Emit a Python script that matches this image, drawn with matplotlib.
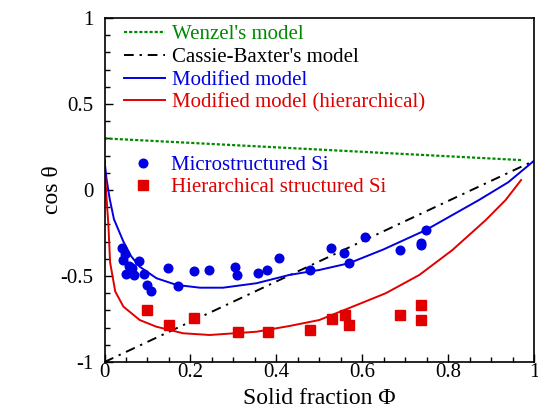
import matplotlib
matplotlib.use("Agg")
import matplotlib.pyplot as plt
from matplotlib.ticker import MultipleLocator, FixedLocator, FixedFormatter

plt.rcParams['font.family'] = ['Liberation Serif', 'DejaVu Serif']
plt.rcParams['mathtext.fontset'] = 'stix'

# ---- data ----
wenzel_x = [0.0, 0.97]
wenzel_y = [0.30, 0.174]

cassie_x = [0.0, 1.0]
cassie_y = [-1.0, 0.17]

mod_x = [0.0, 0.005, 0.012, 0.022, 0.044, 0.062, 0.082, 0.121, 0.168, 0.222,
         0.276, 0.354, 0.43, 0.5, 0.569, 0.65, 0.748, 0.872, 0.94, 1.0]
mod_y = [0.17, 0.06, -0.05, -0.17, -0.30, -0.385, -0.446, -0.513, -0.552, -0.568,
         -0.568, -0.542, -0.494, -0.465, -0.426, -0.345, -0.233, -0.058, 0.045, 0.17]

hier_x = [0.0, 0.004, 0.009, 0.013, 0.025, 0.044, 0.082, 0.121, 0.183, 0.245,
          0.354, 0.43, 0.5, 0.578, 0.655, 0.733, 0.81, 0.888, 0.934, 0.97]
hier_y = [0.17, -0.02, -0.2, -0.42, -0.59, -0.678, -0.756, -0.795, -0.833, -0.843,
          -0.824, -0.791, -0.756, -0.678, -0.60, -0.494, -0.349, -0.174, -0.058, 0.058]

micro_x = [0.041, 0.048, 0.044, 0.057, 0.063, 0.051, 0.069, 0.080, 0.093, 0.100,
           0.109, 0.149, 0.172, 0.209, 0.243, 0.304, 0.308, 0.358, 0.378, 0.407,
           0.478, 0.528, 0.557, 0.569, 0.607, 0.687, 0.737, 0.737, 0.748]
micro_y = [-0.335, -0.374, -0.407, -0.442, -0.452, -0.488, -0.496, -0.411, -0.487, -0.554,
           -0.585, -0.455, -0.556, -0.473, -0.467, -0.449, -0.496, -0.483, -0.467, -0.395,
           -0.465, -0.335, -0.365, -0.426, -0.272, -0.347, -0.306, -0.320, -0.231]

hsi_x = [0.100, 0.150, 0.209, 0.310, 0.380, 0.479, 0.529, 0.559, 0.570, 0.688, 0.738, 0.738]
hsi_y = [-0.698, -0.783, -0.744, -0.826, -0.826, -0.816, -0.750, -0.728, -0.787, -0.727,
         -0.669, -0.758]

xticks = [0, 0.2, 0.4, 0.6, 0.8, 1.0]
xticklabels = ['0', '0.2', '0.4', '0.6', '0.8', '1']
yticks = [-1, -0.5, 0, 0.5, 1]
yticklabels = ['-1', '-0.5', '0', '0.5', '1']

GREEN = '#008a00'
BLUE = '#0000e0'
RED = '#e00000'

fig = plt.figure(figsize=(5.38, 4.16), dpi=100)
ax = fig.add_axes([104.5/538, 1-362/416, (534-104.5)/538, (362-18)/416])

lw_ = ax.plot(wenzel_x, wenzel_y, color=GREEN, lw=1.6, ls=(0, (1.4, 0.9)),
              label="Wenzel's model")[0]
lc_ = ax.plot(cassie_x, cassie_y, color='black', lw=1.4, ls=(0, (5, 3, 1.2, 3)),
              label="Cassie-Baxter's model")[0]
lm_ = ax.plot(mod_x, mod_y, color=BLUE, lw=1.4, label='Modified model')[0]
lh_ = ax.plot(hier_x, hier_y, color=RED, lw=1.4, label='Modified model (hierarchical)')[0]

pm_ = ax.plot(micro_x, micro_y, 'o', color=BLUE, ms=6.2, mec=BLUE,
              label='Microstructured Si')[0]
ph_ = ax.plot(hsi_x, hsi_y, 's', color=RED, ms=6.8, mec=RED,
              label='Hierarchical structured Si')[0]

ax.set_xlim(0, 1)
ax.set_ylim(-1, 1)
ax.xaxis.set_major_locator(FixedLocator(xticks))
ax.xaxis.set_major_formatter(FixedFormatter(xticklabels))
ax.xaxis.set_minor_locator(MultipleLocator(0.05))
ax.yaxis.set_major_locator(FixedLocator(yticks))
ax.yaxis.set_major_formatter(FixedFormatter(yticklabels))
ax.yaxis.set_minor_locator(MultipleLocator(0.1))
ax.tick_params(which='both', direction='in', top=False, right=False, labelsize=15,
               width=1.0)
ax.tick_params(which='major', length=6)
ax.tick_params(which='minor', length=3.5)
ax.tick_params(axis='x', which='both', pad=1)
ax.tick_params(axis='y', which='both', pad=8)
for s in ax.spines.values():
    s.set_linewidth(1.2)

ax.set_xlabel('Solid fraction Φ', fontsize=17, labelpad=4)
ax.set_ylabel('cos θ', fontsize=17, labelpad=-2)

leg1 = ax.legend(handles=[lw_, lc_, lm_, lh_], loc='upper left',
                 bbox_to_anchor=(0.045, 0.98), frameon=False, fontsize=15,
                 handlelength=2.0, handletextpad=0.3, labelspacing=0.15,
                 borderpad=0, borderaxespad=0)
for t, c in zip(leg1.get_texts(), [GREEN, 'black', BLUE, RED]):
    t.set_color(c)
ax.add_artist(leg1)

leg2 = ax.legend(handles=[pm_, ph_], loc='upper left',
                 bbox_to_anchor=(0.045, 0.60), frameon=False, fontsize=15,
                 handlelength=1.8, handletextpad=0.45, labelspacing=0.1,
                 borderpad=0, borderaxespad=0, numpoints=1)
for t, c in zip(leg2.get_texts(), [BLUE, RED]):
    t.set_color(c)

fig.savefig('out.png', dpi=100)
